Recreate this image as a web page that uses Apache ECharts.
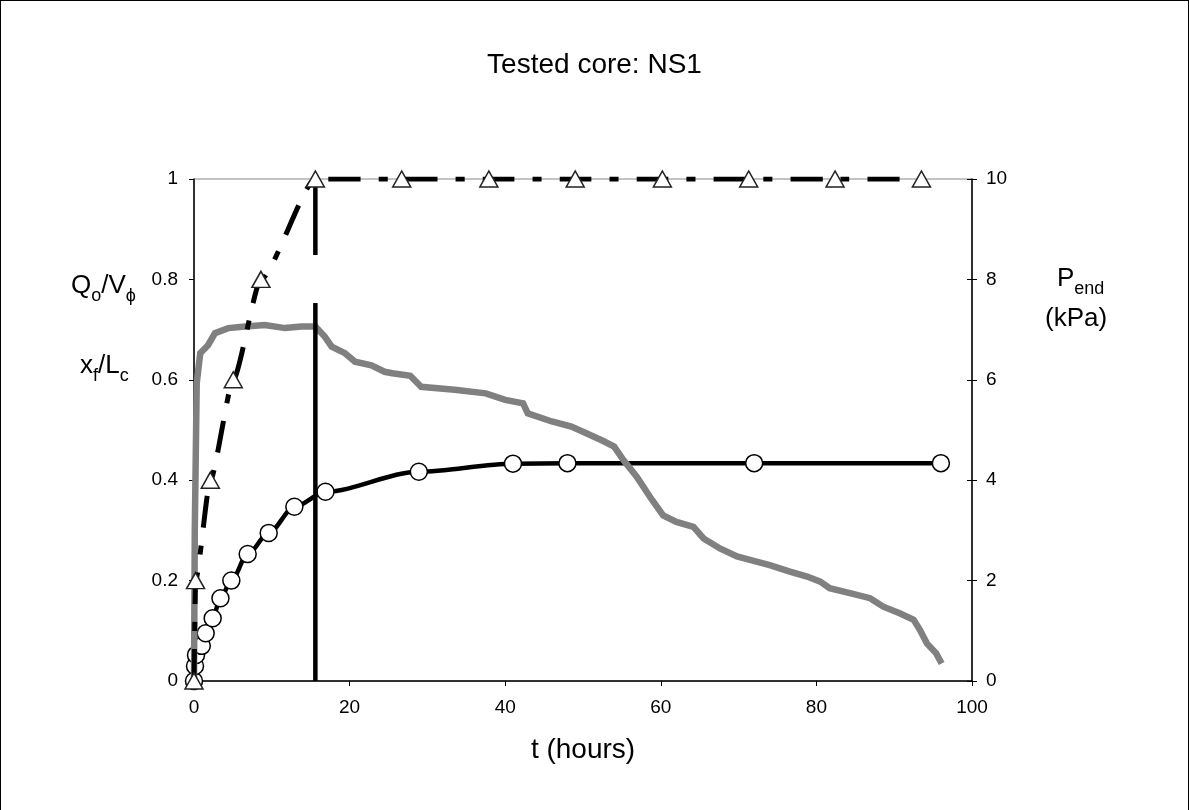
<!DOCTYPE html>
<html>
<head>
<meta charset="utf-8">
<script src="https://cdn.jsdelivr.net/npm/echarts@6/dist/echarts.min.js"></script>
<style>
  body { margin: 0; background: #fff; }
  #frame {
    position: absolute; left: 0; top: 0;
    width: 1187px; height: 1000px;
    border: 1px solid #000; border-bottom: none;
  }
  #chart { position: absolute; left: 0; top: 0; width: 1189px; height: 810px; }
</style>
</head>
<body>
<div id="frame"></div>
<div id="chart"></div>
<script>
// x_f/L_c (circles)
const tFront = [0, 0.13, 0.26, 1.0, 1.5, 2.4, 3.4, 4.8, 6.9, 9.6, 12.9, 16.9, 28.9, 41.0, 48.0, 72.0, 96.0];
const xfLc = [0, 0.03, 0.052, 0.07, 0.095, 0.125, 0.165, 0.2, 0.253, 0.295, 0.347, 0.377, 0.417, 0.433, 0.434, 0.434, 0.434];

// Q_o/V_phi (triangles)
const tOil = [0, 0.2, 2.1, 5.05, 8.6, 15.6, 26.7, 37.9, 49.0, 60.2, 71.3, 82.4, 93.5];
const qoV = [0, 0.2, 0.4, 0.6, 0.8, 1, 1, 1, 1, 1, 1, 1, 1];

// P_end in kPa (grey, right axis)
const tP = [0, 0.1, 0.35, 0.8, 1.8, 2.7, 4.4, 6.6, 9.1, 11.7, 13.8, 15.6, 16.8, 17.7, 19.4,
  20.7, 22.8, 24.5, 25.5, 27.8, 29.2, 33.5, 37.5, 40, 42.3, 42.9, 46, 48.5, 50.5, 52.6,
  54, 55.2, 56.9, 58.6, 60.3, 62, 64.2, 65.5, 67.6, 69.8, 72.3, 74, 76.6, 78.8, 80.5,
  81.7, 84.3, 86.9, 88.6, 90.7, 92.5, 93.3, 94.2, 95.4, 96.1];
const pEnd = [0, 3.0, 5.93, 6.53, 6.69, 6.93, 7.03, 7.06, 7.09, 7.03, 7.06, 7.06, 6.86, 6.66, 6.53,
  6.36, 6.29, 6.16, 6.13, 6.08, 5.86, 5.80, 5.73, 5.60, 5.53, 5.33, 5.17, 5.07, 4.93, 4.78,
  4.67, 4.40, 4.07, 3.67, 3.30, 3.17, 3.07, 2.84, 2.64, 2.48, 2.38, 2.31, 2.18, 2.08, 1.98,
  1.85, 1.75, 1.65, 1.48, 1.35, 1.22, 1.02, 0.75, 0.55, 0.35];

// vertical marker (oil breakthrough time)
const tBreak = [15.6, 15.6];
const breakY = [0, 1];

const xTicks = [0, 20, 40, 60, 80, 100];

const font = '"Liberation Sans", Arial, sans-serif';
const zip = (a, b) => a.map((v, i) => [v, b[i]]);

const chart = echarts.init(document.getElementById('chart'));

const subRich = {
  m: { fontSize: 26, fontFamily: font, color: '#000', verticalAlign: 'bottom', padding: [0, 0, 6, 0] },
  s: { fontSize: 18, fontFamily: font, color: '#000', verticalAlign: 'bottom' }
};

const option = {
  animation: false,
  backgroundColor: 'transparent',
  title: {
    text: 'Tested core: NS1',
    left: 'center',
    top: 46,
    textStyle: { fontFamily: font, fontSize: 28, fontWeight: 'normal', color: '#000' }
  },
  grid: {
    left: 194, top: 179, width: 778, height: 502,
    show: true, borderColor: '#888', borderWidth: 1
  },
  xAxis: {
    type: 'value',
    min: xTicks[0], max: xTicks[xTicks.length - 1], interval: 20,
    name: 't (hours)',
    nameLocation: 'middle',
    nameGap: 55,
    nameTextStyle: { fontFamily: font, fontSize: 28, color: '#000' },
    axisLine: { lineStyle: { color: '#000', width: 1.5 } },
    axisTick: { length: 5, lineStyle: { color: '#000' } },
    axisLabel: { fontFamily: font, fontSize: 19, color: '#000', margin: 17 },
    splitLine: { show: false }
  },
  yAxis: [
    {
      type: 'value', min: 0, max: 1, interval: 0.2, position: 'left',
      axisLine: { show: true, lineStyle: { color: '#000', width: 1.5 } },
      axisTick: { show: true, length: 5, lineStyle: { color: '#000' } },
      axisLabel: { fontFamily: font, fontSize: 19, color: '#000', margin: 16 },
      splitLine: { show: false }
    },
    {
      type: 'value', min: 0, max: 10, interval: 2, position: 'right',
      axisLine: { show: true, lineStyle: { color: '#000', width: 1.5 } },
      axisTick: { show: true, length: 5, lineStyle: { color: '#000' } },
      axisLabel: { fontFamily: font, fontSize: 19, color: '#000', margin: 14 },
      splitLine: { show: false }
    },
    {
      type: 'value', min: 0, max: 10, interval: 2, position: 'right',
      axisLine: { show: false },
      axisTick: { show: true, inside: true, length: 5, lineStyle: { color: '#000' } },
      axisLabel: { show: false },
      splitLine: { show: false }
    }
  ],
  graphic: [
    {
      type: 'text', left: 71, top: 273,
      style: { text: '{m|Q}{s|o}{m|/V}{s|ϕ}', rich: subRich }
    },
    {
      type: 'text', left: 80, top: 353,
      style: { text: '{m|x}{s|f}{m|/L}{s|c}', rich: subRich }
    },
    {
      type: 'text', left: 1057, top: 266,
      style: { text: '{m|P}{s|end}', rich: subRich }
    },
    {
      type: 'text', left: 1045, top: 306,
      style: { text: '(kPa)', fontFamily: font, fontSize: 26, fill: '#000' }
    }
  ],
  series: [
    {
      name: 'xf/Lc',
      type: 'line',
      yAxisIndex: 0,
      data: zip(tFront, xfLc),
      smooth: 0.3,
      smoothMonotone: 'x',
      symbol: 'circle',
      symbolSize: 17,
      itemStyle: { color: '#fff', borderColor: '#000', borderWidth: 1.5 },
      lineStyle: { color: '#000', width: 4.5 },
      z: 2
    },
    {
      name: 'P_end',
      type: 'line',
      yAxisIndex: 1,
      data: zip(tP, pEnd),
      symbol: 'none',
      lineStyle: { color: '#808080', width: 6.5, cap: 'butt', join: 'miter' },
      z: 3
    },
    {
      name: 'break',
      type: 'line',
      yAxisIndex: 0,
      data: zip(tBreak, breakY),
      symbol: 'none',
      lineStyle: { color: '#000', width: 4.5, type: [378, 48, 300] },
      z: 4
    },
    {
      name: 'Qo/Vphi',
      type: 'line',
      yAxisIndex: 0,
      data: zip(tOil, qoV),
      smooth: 0.2,
      smoothMonotone: 'x',
      symbol: 'triangle',
      symbolSize: [18, 16],
      itemStyle: { color: '#fff', borderColor: '#222', borderWidth: 1.5 },
      lineStyle: { color: '#000', width: 5, type: [32, 18, 9, 18] },
      z: 5
    }
  ]
};

chart.setOption(option);
</script>
</body>
</html>
